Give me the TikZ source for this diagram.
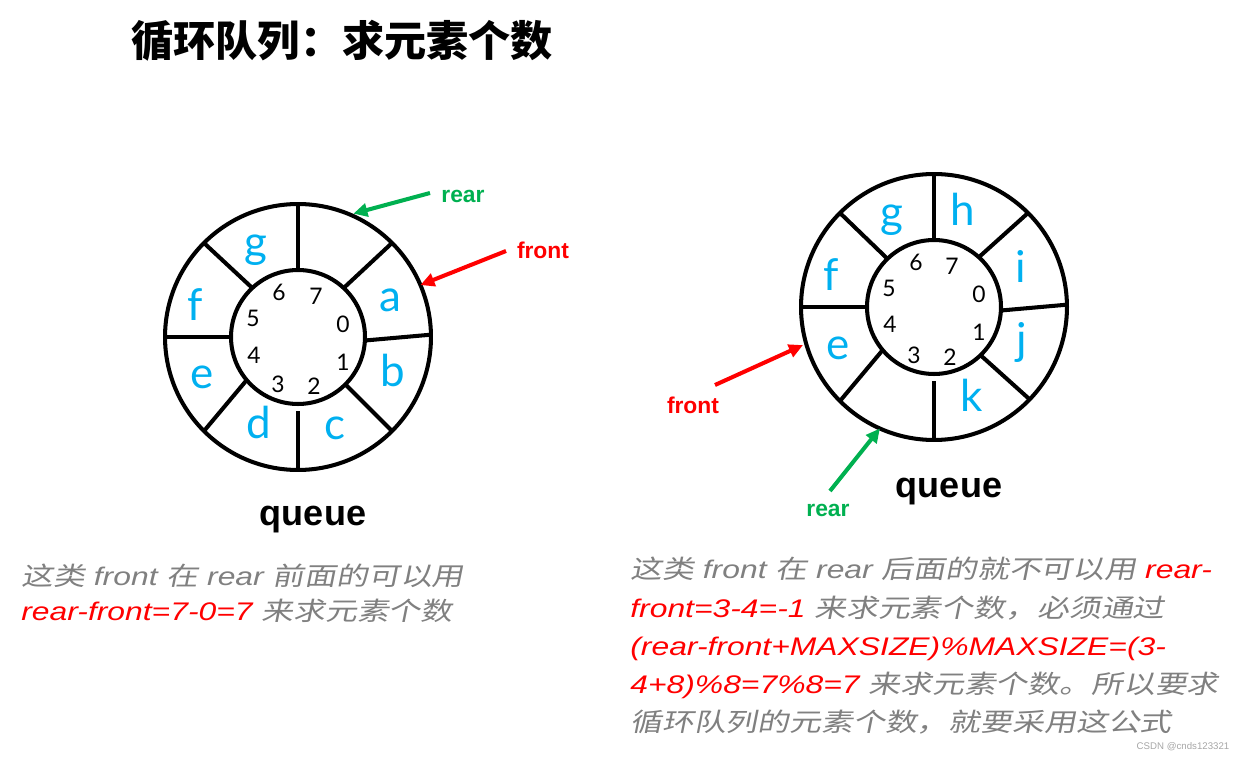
\documentclass[tikz,border=0pt]{standalone}
\usepackage{fontspec}
\usepackage{tikz}
\setmainfont{Liberation Sans}
\newfontfamily\cjkfont{Noto Sans CJK SC}
\newfontfamily\cjkslant[FakeSlant=0.2,FakeStretch=1.25]{Noto Sans CJK SC}
\newfontfamily\noteslant[FakeStretch=1.25]{Liberation Sans}
\newfontfamily\cellfont{Lato}
\usetikzlibrary{arrows.meta}
\definecolor{qblue}{RGB}{0,176,240}
\definecolor{qgreen}{RGB}{0,176,80}
\definecolor{qgray}{RGB}{128,128,128}
\newcommand{\zh}[1]{{\cjkslant\upshape #1}}

\begin{document}
\begin{tikzpicture}[
        x=0.02cm, y=-0.02cm,
        ring/.style={circle, draw, line width=2.3pt, inner sep=0pt, outer sep=0pt},
        wall/.style={line width=2.3pt},
        cell/.style={text=qblue, font=\cellfont\fontsize{25}{25}\selectfont},
        idx/.style={font=\cellfont\fontsize{13}{13}\selectfont},
        ptr/.style={font=\bfseries\fontsize{13}{13}\selectfont},
        qname/.style={font=\bfseries\fontsize{20.5}{20.5}\selectfont},
        note/.style={anchor=base west, inner sep=0pt, text=qgray, font=\noteslant\itshape\fontsize{14.5}{14.5}\selectfont},
        arrow/.style={-{Triangle[length=8pt, width=7.5pt]}, line width=2.3pt}
    ]
        \useasboundingbox (0,0) rectangle (1245,760);

        \node[anchor=base west, inner sep=0pt, font=\cjkfont\bfseries\fontsize{24}{24}\selectfont] (title) at (131,57) {循环队列：求元素个数};

        \node[ring, minimum size=5.32cm] (lout) at (298,337) {};
        \node[ring, minimum size=2.68cm] (lin) at (298,337) {};
        \draw[wall] (lin.90) -- (lout.90);
        \draw[wall] (lin.47) -- (lout.45);
        \draw[wall] (lin.-3) -- (lout.1);
        \draw[wall] (lin.-45) -- (lout.-45);
        \draw[wall, shorten <=4pt] (lin.-90) -- (lout.-90);
        \draw[wall] (lin.-140) -- (lout.-135);
        \draw[wall] (lin.180) -- (lout.180);
        \draw[wall] (lin.133) -- (lout.135);

        \node[cell] (la) at (390,300) {a};
        \node[cell] (lb) at (393,370) {b};
        \node[cell] (lc) at (335,428) {c};
        \node[cell] (ld) at (259,422) {d};
        \node[cell] (le) at (202,377) {e};
        \node[cell] (lf) at (195,305) {f};
        \node[cell] (lg) at (256,250) {g};

        \node[idx] (l0) at (343,324) {0};
        \node[idx] (l1) at (343,362) {1};
        \node[idx] (l2) at (314,386) {2};
        \node[idx] (l3) at (278,384) {3};
        \node[idx] (l4) at (254,355) {4};
        \node[idx] (l5) at (253,318) {5};
        \node[idx] (l6) at (279,292) {6};
        \node[idx] (l7) at (316,296) {7};

        \node[ptr, text=qgreen] (lrear) at (463,196) {rear};
        \node[ptr, text=red] (lfront) at (543,250) {front};
        \coordinate (lrearT) at (430,193);
        \coordinate (lfrontT) at (506,251);
        \draw[arrow, qgreen, shorten >=2pt] (lrearT) -- (lout.67);
        \draw[arrow, red] (lfrontT) -- (lout.23);
        \node[qname] (lq) at (313,520) {queue};

        \node[ring, minimum size=5.32cm] (rout) at (934,307) {};
        \node[ring, minimum size=2.68cm] (rin) at (934,307) {};
        \draw[wall] (rin.90) -- (rout.90);
        \draw[wall] (rin.48) -- (rout.45);
        \draw[wall] (rin.-3) -- (rout.1);
        \draw[wall] (rin.-46) -- (rout.-44);
        \draw[wall, shorten <=4pt] (rin.-90) -- (rout.-90);
        \draw[wall] (rin.-140) -- (rout.-135);
        \draw[wall] (rin.180) -- (rout.180);
        \draw[wall] (rin.134) -- (rout.135);

        \node[cell] (rg) at (892,220) {g};
        \node[cell] (rh) at (963,209) {h};
        \node[cell] (ri) at (1021,266) {i};
        \node[cell] (rj) at (1022,342) {j};
        \node[cell] (rk) at (972,395) {k};
        \node[cell] (re) at (838,348) {e};
        \node[cell] (rf) at (831,275) {f};

        \node[idx] (r0) at (979,294) {0};
        \node[idx] (r1) at (979,332) {1};
        \node[idx] (r2) at (950,357) {2};
        \node[idx] (r3) at (914,355) {3};
        \node[idx] (r4) at (890,324) {4};
        \node[idx] (r5) at (889,288) {5};
        \node[idx] (r6) at (916,262) {6};
        \node[idx] (r7) at (952,266) {7};

        \node[ptr, text=red] (rfront) at (693,405) {front};
        \node[ptr, text=qgreen] (rrear) at (828,510) {rear};
        \coordinate (rfrontT) at (715,385);
        \coordinate (rrearT) at (830,491);
        \draw[arrow, red, shorten >=2pt] (rfrontT) -- (rout.196);
        \draw[arrow, qgreen] (rrearT) -- (rout.246);
        \node[qname] (rq) at (949,492) {queue};

        \node[note] (ln1) at (21,585) {\zh{这类} front \zh{在} rear \zh{前面的可以用}};
        \node[note] (ln2) at (21,620) {\textcolor{red}{rear-front=7-0=7} \zh{来求元素个数}};

        \node[note] (rn1) at (630,578) {\zh{这类} front \zh{在} rear \zh{后面的就不可以用} \textcolor{red}{rear-}};
        \node[note] (rn2) at (630,617) {\textcolor{red}{front=3-4=-1} \zh{来求元素个数，必须通过}};
        \node[note, text=red] (rn3) at (630,655) {(rear-front+MAXSIZE)\%MAXSIZE=(3-};
        \node[note] (rn4) at (630,693) {\textcolor{red}{4+8)\%8=7\%8=7} \zh{来求元素个数。所以要求}};
        \node[note] (rn5) at (630,731) {\zh{循环队列的元素个数，就要采用这公式}};

        \node[font=\fontsize{5.5}{5.5}\selectfont, text=black!35] (mark) at (1183,747) {CSDN @cnds123321};
    \end{tikzpicture}
\end{document}
